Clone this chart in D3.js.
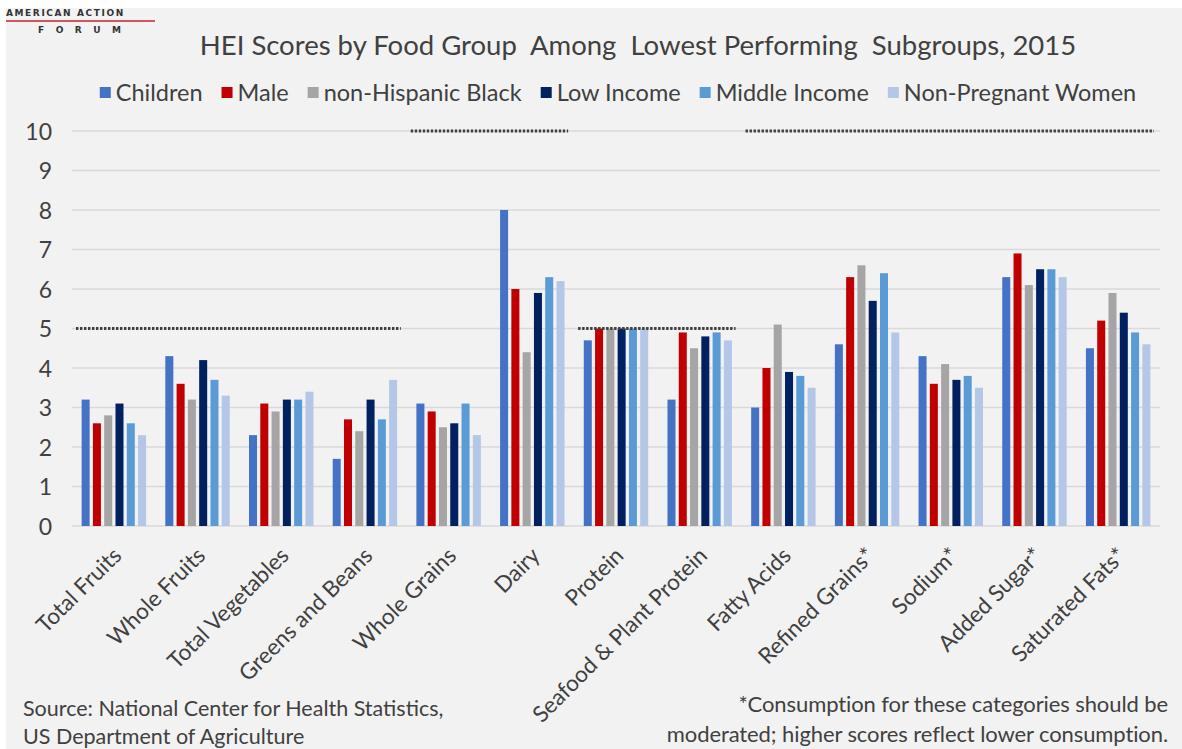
<!DOCTYPE html>
<html>
<head>
<meta charset="utf-8">
<script src="https://cdn.jsdelivr.net/npm/d3@7"></script>
<style>
  html, body { margin: 0; padding: 0; background: #ffffff; }
  svg { display: block; font-family: Lato, "Open Sans", sans-serif; }
</style>
</head>
<body>
<svg id="chart" width="1182" height="749"></svg>
<script>
const categories = ["Total Fruits", "Whole Fruits", "Total Vegetables", "Greens and Beans", "Whole Grains",
    "Dairy", "Protein", "Seafood & Plant Protein", "Fatty Acids", "Refined Grains*", "Sodium*",
    "Added Sugar*", "Saturated Fats*"];
const seriesNames = ["Children", "Male", "non-Hispanic Black", "Low Income", "Middle Income", "Non-Pregnant Women"];
const seriesColors = ["#4472C4", "#C00000", "#A5A5A5", "#002060", "#5B9BD5", "#B4C7E7"];

// one array per subgroup, in category order
const children   = [3.2, 4.3, 2.3, 1.7, 3.1, 8.0, 4.7, 3.2, 3.0, 4.6, 4.3, 6.3, 4.5];
const male       = [2.6, 3.6, 3.1, 2.7, 2.9, 6.0, 5.0, 4.9, 4.0, 6.3, 3.6, 6.9, 5.2];
const nhBlack    = [2.8, 3.2, 2.9, 2.4, 2.5, 4.4, 5.0, 4.5, 5.1, 6.6, 4.1, 6.1, 5.9];
const lowIncome  = [3.1, 4.2, 3.2, 3.2, 2.6, 5.9, 5.0, 4.8, 3.9, 5.7, 3.7, 6.5, 5.4];
const midIncome  = [2.6, 3.7, 3.2, 2.7, 3.1, 6.3, 5.0, 4.9, 3.8, 6.4, 3.8, 6.5, 4.9];
const nonPregnant = [2.3, 3.3, 3.4, 3.7, 2.3, 6.2, 5.0, 4.7, 3.5, 4.9, 3.5, 6.3, 4.6];
const seriesValues = [children, male, nhBlack, lowIncome, midIncome, nonPregnant];

// maximum HEI score per food group (dotted lines)
const maxScores = [5, 5, 5, 5, 10, 10, 5, 5, 10, 10, 10, 10, 10];
const yTicks = [0, 1, 2, 3, 4, 5, 6, 7, 8, 9, 10];

const titleText = "HEI Scores by Food Group  Among  Lowest Performing  Subgroups, 2015";
const sourceLines = ["Source: National Center for Health Statistics,", "US Department of Agriculture"];
const noteLines = ["*Consumption for these categories should be", "moderated; higher scores reflect lower consumption."];

const svg = d3.select("#chart");
const textColor = "#404040";

// background panel
svg.append("rect")
    .attr("x", 6).attr("y", 8)
    .attr("width", 1176).attr("height", 741)
    .attr("fill", "#F2F2F2");

// Logo
const logo = svg.append("g");
logo.append("text")
    .attr("x", 6).attr("y", 16)
    .attr("font-family", "'DejaVu Sans', sans-serif")
    .attr("font-weight", "bold")
    .attr("font-size", 9)
    .attr("letter-spacing", 1.6)
    .attr("fill", "#333")
    .text("AMERICAN ACTION");
logo.append("line")
    .attr("x1", 6).attr("x2", 155)
    .attr("y1", 21).attr("y2", 21)
    .attr("stroke", "#C8202F")
    .attr("stroke-width", 1.6);
logo.append("text")
    .attr("x", 38).attr("y", 33)
    .attr("font-family", "'DejaVu Sans', sans-serif")
    .attr("font-weight", "bold")
    .attr("font-size", 9)
    .attr("letter-spacing", 11.5)
    .attr("fill", "#333")
    .text("FORUM");

// Scales
const plot = {left: 72, right: 1160, top: 131, bottom: 526};

const x0 = d3.scaleBand()
    .domain(categories)
    .range([plot.left, plot.right])
    .paddingInner(0.23)
    .paddingOuter(0.115);

const x1 = d3.scaleBand()
    .domain(d3.range(seriesNames.length))
    .range([0, x0.bandwidth()])
    .paddingInner(0.29);

const y = d3.scaleLinear()
    .domain([0, 10])
    .range([plot.bottom, plot.top]);

// Gridlines
svg.append("g")
    .selectAll("line")
    .data(yTicks)
    .enter()
    .append("line")
    .attr("x1", plot.left).attr("x2", plot.right)
    .attr("y1", d => y(d)).attr("y2", d => y(d))
    .attr("stroke", "#D9D9D9")
    .attr("stroke-width", 1.5);

// Y axis labels
const yAxis = svg.append("g")
    .attr("transform", `translate(${plot.left - 20},0)`)
    .call(d3.axisLeft(y).tickValues(yTicks).tickSize(0).tickPadding(0));
yAxis.select(".domain").remove();
yAxis.selectAll("text")
    .attr("font-family", "Lato, sans-serif")
    .attr("font-size", 23)
    .attr("fill", textColor)
    .attr("dy", "0.35em");

// Bars
const step = x0.step();
const groups = svg.append("g")
    .selectAll("g")
    .data(categories)
    .enter()
    .append("g")
    .attr("transform", d => `translate(${x0(d)},0)`);

groups.selectAll("rect")
    .data((c, i) => seriesValues.map((vals, s) => ({s: s, v: vals[i]})))
    .enter()
    .append("rect")
    .attr("x", d => x1(d.s))
    .attr("width", x1.bandwidth())
    .attr("y", d => y(d.v))
    .attr("height", d => y(0) - y(d.v))
    .attr("fill", d => seriesColors[d.s]);

// Max score dotted lines, merged over neighbouring groups with the same max
const runs = [];
maxScores.forEach((m, i) => {
    const last = runs[runs.length - 1];
    if (last && last.max === m) last.end = i;
    else runs.push({max: m, start: i, end: i});
});
const halfGap = step * x0.paddingInner() / 2;
svg.append("g")
    .selectAll("line")
    .data(runs)
    .enter()
    .append("line")
    .attr("x1", d => x0(categories[d.start]) - halfGap + 4)
    .attr("x2", d => x0(categories[d.end]) + x0.bandwidth() + halfGap - 6)
    .attr("y1", d => y(d.max))
    .attr("y2", d => y(d.max))
    .attr("stroke", "#3f3f3f")
    .attr("stroke-width", 3)
    .attr("stroke-dasharray", "2.4 1.6");

// X axis labels
svg.append("g")
    .selectAll("text")
    .data(categories)
    .enter()
    .append("text")
    .attr("transform", d => `translate(${x0(d) + x0.bandwidth() / 2 + 9},557) rotate(-45)`)
    .attr("text-anchor", "end")
    .attr("font-size", 22.5)
    .attr("fill", textColor)
    .text(d => d);

// Title
svg.append("text")
    .attr("x", 638).attr("y", 55)
    .attr("text-anchor", "middle")
    .attr("font-size", 27.5)
    .attr("fill", textColor)
    .style("white-space", "pre")
    .text(titleText);

// Legend: items laid out one after another, then centred
const legend = svg.append("g").attr("transform", "translate(0,87)");
const items = legend.selectAll("g")
    .data(seriesNames)
    .enter()
    .append("g");

items.append("rect")
    .attr("width", 11).attr("height", 11)
    .attr("fill", (d, i) => seriesColors[i]);

items.append("text")
    .attr("x", 16).attr("y", 13.5)
    .attr("font-size", 23.5)
    .attr("fill", textColor)
    .text(d => d);

const legendGap = 19;
let cursor = 0;
const offsets = [];
items.each(function () {
    offsets.push(cursor);
    cursor += 16 + d3.select(this).select("text").node().getComputedTextLength() + legendGap;
});
const legendStart = 618 - (cursor - legendGap) / 2;
items.attr("transform", (d, i) => `translate(${legendStart + offsets[i]},0)`);

// Footer
svg.append("g")
    .selectAll("text")
    .data(sourceLines)
    .enter()
    .append("text")
    .attr("x", 23)
    .attr("y", (d, i) => 716 + i * 28)
    .attr("font-size", 21.5)
    .attr("fill", textColor)
    .text(d => d);

svg.append("g")
    .selectAll("text")
    .data(noteLines)
    .enter()
    .append("text")
    .attr("x", 1168)
    .attr("y", (d, i) => 712 + i * 30)
    .attr("text-anchor", "end")
    .attr("font-size", 22)
    .attr("letter-spacing", -0.1)
    .attr("fill", textColor)
    .text(d => d);
</script>
</body>
</html>
